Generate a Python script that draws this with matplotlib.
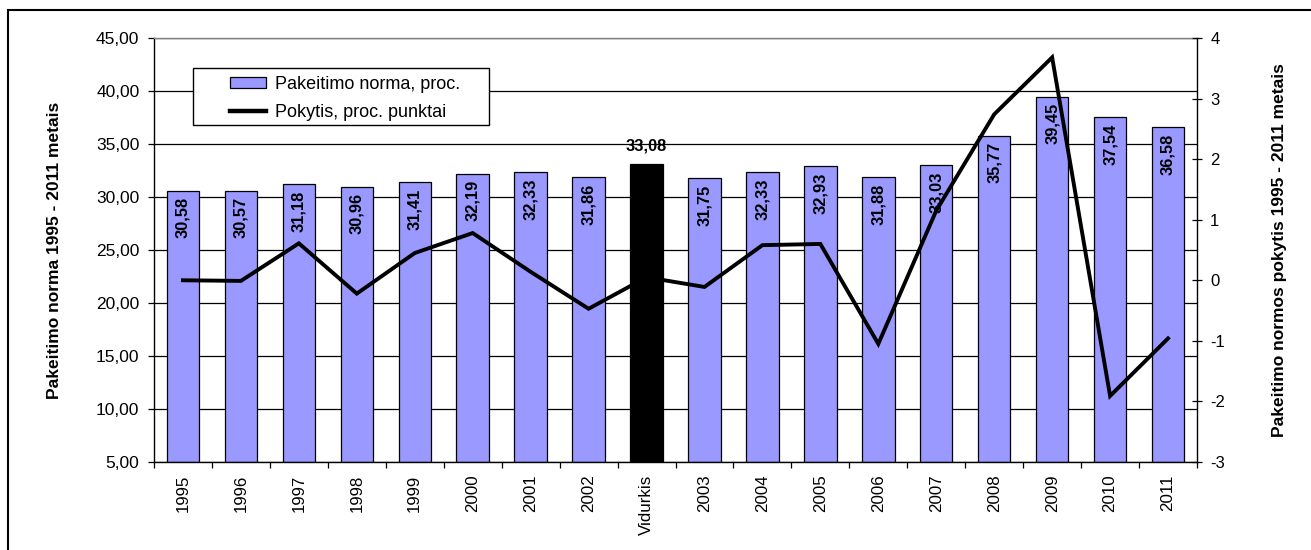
import matplotlib
matplotlib.use("Agg")
import matplotlib.pyplot as plt
from matplotlib.patches import Rectangle, Patch
from matplotlib.lines import Line2D
import numpy as np

plt.rcParams['font.family'] = ['Liberation Sans', 'DejaVu Sans']

categories = ['1995', '1996', '1997', '1998', '1999', '2000', '2001', '2002', 'Vidurkis',
              '2003', '2004', '2005', '2006', '2007', '2008', '2009', '2010', '2011']
norma = [30.58, 30.57, 31.18, 30.96, 31.41, 32.19, 32.33, 31.86, 33.08,
         31.75, 32.33, 32.93, 31.88, 33.03, 35.77, 39.45, 37.54, 36.58]
pokytis = [0.0, -0.01, 0.61, -0.22, 0.45, 0.78, 0.14, -0.47, 0.05,
           -0.11, 0.58, 0.60, -1.05, 1.15, 2.74, 3.68, -1.91, -0.96]
label_norma = ['30,58', '30,57', '31,18', '30,96', '31,41', '32,19', '32,33', '31,86', '33,08',
               '31,75', '32,33', '32,93', '31,88', '33,03', '35,77', '39,45', '37,54', '36,58']
left_ticks = [5, 10, 15, 20, 25, 30, 35, 40, 45]
left_tick_labels = ['5,00', '10,00', '15,00', '20,00', '25,00', '30,00', '35,00', '40,00', '45,00']
right_ticks = [-3, -2, -1, 0, 1, 2, 3, 4]
avg_name = 'Vidurkis'

W, H = 1311, 550
fig = plt.figure(figsize=(W / 100, H / 100), dpi=100)
L, R, T, B = 154, 1197, 38, 462
ax = fig.add_axes([L / W, 1 - B / H, (R - L) / W, (B - T) / H])

# outer frame
fig.patches.append(Rectangle((8 / W, -0.2), 1.5, (H - 10) / H + 0.2, transform=fig.transFigure,
                             fill=False, edgecolor='black', linewidth=1.5, zorder=0))

x = np.arange(len(categories))
colors = ['black' if c == avg_name else '#9999FF' for c in categories]
bars = ax.bar(x, [v - 5 for v in norma], bottom=5, width=0.56, color=colors,
              edgecolor='black', linewidth=0.9, zorder=2)

ax.set_xlim(-0.5, len(categories) - 0.5)
ax.set_ylim(5, 45)
ax.set_yticks(left_ticks)
ax.set_yticklabels(left_tick_labels, fontsize=12.5)
ax.yaxis.grid(True, color='black', linewidth=0.9, zorder=1)
ax.set_axisbelow(True)
ax.tick_params(axis='y', direction='out', length=4.5, width=0.9, pad=6)

ax.set_xticks(x)
ax.set_xticklabels(categories, rotation=90, fontsize=12.2)
ax.set_xticks(np.arange(len(categories) + 1) - 0.5, minor=True)
ax.tick_params(axis='x', which='major', length=0, pad=9)
ax.tick_params(axis='x', which='minor', direction='out', length=4.5, width=0.9)

for s in ['left', 'bottom']:
    ax.spines[s].set_linewidth(1.0)
    ax.spines[s].set_color('black')
ax.spines['top'].set_color('#808080')
ax.spines['top'].set_linewidth(1.0)
ax.spines['right'].set_visible(False)

for xi, v, lab, c in zip(x, norma, label_norma, categories):
    if c == avg_name:
        ax.annotate(lab, (xi, v), xytext=(0, 8), textcoords='offset points',
                    ha='center', va='bottom', fontsize=11.8, fontweight='bold', zorder=6)
    else:
        ax.annotate(lab, (xi, v), xytext=(0, -4.5), textcoords='offset points',
                    ha='center', va='top', rotation=90, fontsize=11.8, fontweight='bold', zorder=3)

ax.set_ylabel('Pakeitimo norma 1995 - 2011 metais', fontsize=12.5, fontweight='bold')
ax.yaxis.set_label_coords((62 - L) / (R - L), 0.5)

ax2 = ax.twinx()
ax2.plot(x, pokytis, color='black', linewidth=2.8, zorder=5, solid_joinstyle='miter')
ax2.set_ylim(-3, 4)
ax2.set_yticks(right_ticks)
ax2.set_yticklabels([str(t) for t in right_ticks], fontsize=12)
ax2.tick_params(axis='y', direction='inout', length=7, width=0.9, pad=6)
ax2.spines['right'].set_linewidth(1.0)
for s in ['left', 'top', 'bottom']:
    ax2.spines[s].set_visible(False)
ax2.set_ylabel('Pakeitimo normos pokytis 1995 - 2011 metais', fontsize=12.5, fontweight='bold')
ax2.yaxis.set_label_coords((1272 - L) / (R - L), 0.5)

# legend
lx0, lx1, ly0, ly1 = 193, 489, 68, 125
ax2.add_patch(Rectangle(((lx0 - L) / (R - L), (B - ly1) / (B - T)),
                        (lx1 - lx0) / (R - L), (ly1 - ly0) / (B - T),
                        transform=ax2.transAxes, facecolor='white', edgecolor='black',
                        linewidth=1.0, zorder=8, clip_on=False))
handles = [Patch(facecolor='#9999FF', edgecolor='black', linewidth=0.9),
           Line2D([0], [0], color='black', linewidth=3.2)]
leg = ax2.legend(handles, ['Pakeitimo norma, proc.', 'Pokytis, proc. punktai'],
                 loc='upper left', bbox_to_anchor=((230 - L) / (R - L), (B - 76) / (B - T)),
                 frameon=False, fontsize=13, borderpad=0, borderaxespad=0,
                 handlelength=2.0, handleheight=0.55, handletextpad=0.5, labelspacing=0.62)
leg.set_zorder(9)

fig.savefig('out.png', dpi=100)
